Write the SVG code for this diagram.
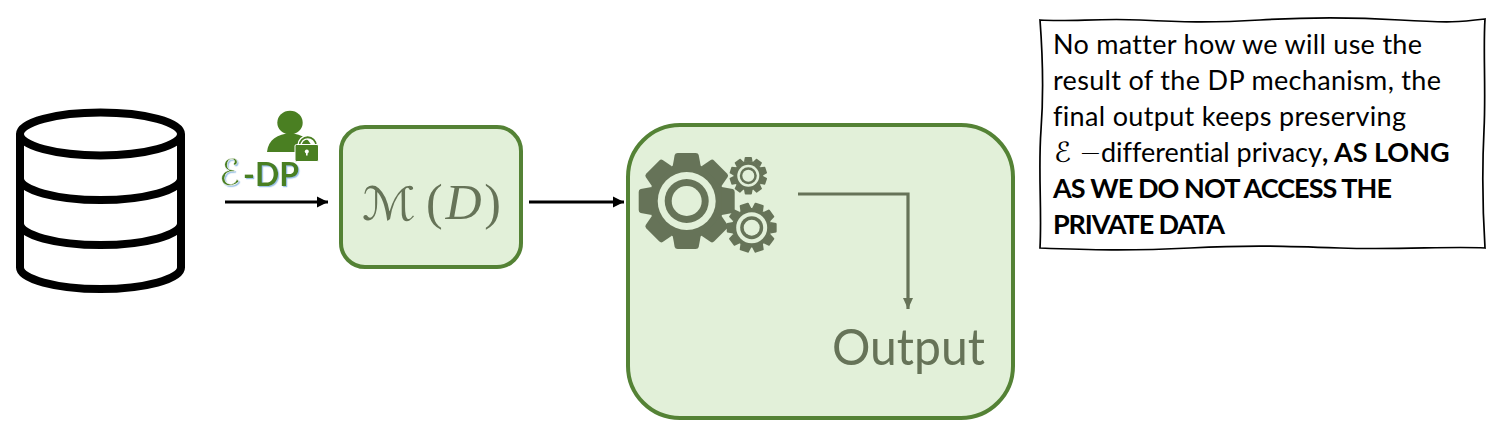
<svg xmlns="http://www.w3.org/2000/svg" width="1500" height="435" viewBox="0 0 1500 435">
<style>
.box{fill:#E2F0D9;stroke:#548235;stroke-width:4}
.db{fill:none;stroke:#000;stroke-width:8}
.conn{fill:none;stroke:#000;stroke-width:3.200}
.conn2{fill:none;stroke:#667358;stroke-width:3.200}
.dark{fill:#667358}
.light{fill:#E2F0D9}
.note{font-family:Lato,"Liberation Sans",sans-serif;font-size:27px;fill:#000;font-variant-ligatures:none}
.b{font-weight:700}
.dp{fill:#4A7F22}
.math{fill:#667358;font-family:"Liberation Serif",serif}
</style>
<defs>
<marker id="hb" markerUnits="userSpaceOnUse" markerWidth="12" markerHeight="13" refX="11" refY="6.500" orient="auto"><path d="M0,1L11,6.500L0,12Z" fill="#000"/></marker>
<marker id="hg" markerUnits="userSpaceOnUse" markerWidth="12" markerHeight="13" refX="11" refY="6.500" orient="auto"><path d="M0,1.500L11,6.500L0,11.500Z" fill="#667358"/></marker>
<path id="t8" d="M-14,-35L-12,-46Q-11.500,-48 -9,-48L9,-48Q11.500,-48 12,-46L14,-35Z"/>
<g id="gear8" class="dark">
<circle r="38"/>
<use href="#t8"/><use href="#t8" transform="rotate(45)"/><use href="#t8" transform="rotate(90)"/><use href="#t8" transform="rotate(135)"/>
<use href="#t8" transform="rotate(180)"/><use href="#t8" transform="rotate(225)"/><use href="#t8" transform="rotate(270)"/><use href="#t8" transform="rotate(315)"/>
</g>
<path id="t10" d="M-11,-36L-9,-47Q-8.500,-48 -7,-48L7,-48Q8.500,-48 9,-47L11,-36Z"/>
<g id="gear10" class="dark">
<circle r="38"/>
<use href="#t10"/><use href="#t10" transform="rotate(36)"/><use href="#t10" transform="rotate(72)"/><use href="#t10" transform="rotate(108)"/><use href="#t10" transform="rotate(144)"/>
<use href="#t10" transform="rotate(180)"/><use href="#t10" transform="rotate(216)"/><use href="#t10" transform="rotate(252)"/><use href="#t10" transform="rotate(288)"/><use href="#t10" transform="rotate(324)"/>
</g>
<filter id="sh" x="-15%" y="-15%" width="130%" height="140%"><feDropShadow dx="1.200" dy="1.200" stdDeviation="0.300" flood-color="#9DC3E6"/></filter>
</defs>

<g id="database">
<ellipse class="db" cx="100.500" cy="134" rx="80.500" ry="21.500"/>
<path class="db" d="M20,134V267.500C20,279 56,289 100.500,289S181,279 181,267.500V134"/>
<path class="db" d="M20,178.500C20,190 56,200 100.500,200S181,190 181,178.500"/>
<path class="db" d="M20,223.500C20,235 56,245 100.500,245S181,235 181,223.500"/>
</g>

<g id="dp-label">
<ellipse class="dp" cx="290" cy="122.700" rx="12.700" ry="11.900"/>
<path class="dp" d="M267,152C268,140 278,133.500 290,133.500C302,133.500 312,140 313,152Z"/>
<path d="M299.500,146V145.500A8.200,8.200 0 0 1 316,145.500V146" fill="none" stroke="#fff" stroke-width="4.500"/>
<path d="M299.500,146V145.500A8.200,8.200 0 0 1 316,145.500V146" fill="none" stroke="#4A7F22" stroke-width="1.800"/>
<rect class="dp" x="295" y="144.500" width="23.500" height="17" rx="1.500" stroke="#fff" stroke-width="1"/>
<circle cx="306.800" cy="151.500" r="2" fill="#fff"/>
<rect x="306" y="151.500" width="1.600" height="4" fill="#fff"/>
<text x="219" y="185" filter="url(#sh)" style="font-family:'DejaVu Sans',sans-serif;font-size:36px" fill="#4A7F22" stroke="#fff" stroke-width="0.500" textLength="21" lengthAdjust="spacingAndGlyphs">ℰ</text>
<text x="243" y="186" filter="url(#sh)" style="font-family:Lato,sans-serif;font-size:33px;font-weight:700" fill="#4A7F22" textLength="56" lengthAdjust="spacingAndGlyphs">-DP</text>
</g>

<g id="mechanism">
<rect class="box" x="341" y="127" width="180" height="140" rx="24"/>
<text class="math" x="362" y="220" style="font-family:'DejaVu Sans',sans-serif;font-size:46px" textLength="54" lengthAdjust="spacingAndGlyphs">ℳ</text>
<text class="math" x="426" y="219" style="font-size:50px;font-weight:400" textLength="75" lengthAdjust="spacing">(<tspan font-style="italic">D</tspan>)</text>
</g>

<g id="processing">
<rect class="box" x="628" y="125" width="385" height="293" rx="52"/>
<use href="#gear8" transform="translate(686.700,201)"/>
<circle class="light" cx="686.700" cy="201" r="29"/>
<circle class="dark" cx="686.700" cy="201" r="22"/>
<circle class="light" cx="686.700" cy="201" r="15"/>
<use href="#gear10" transform="translate(748.300,175.700) scale(0.390)"/>
<circle class="light" cx="748.300" cy="175.700" r="11"/>
<circle class="dark" cx="748.300" cy="175.700" r="8.500"/>
<circle class="light" cx="748.300" cy="175.700" r="6"/>
<use href="#gear10" transform="translate(751.700,227.700) rotate(18) scale(0.520)"/>
<circle class="light" cx="751.700" cy="227.700" r="15.500"/>
<circle class="dark" cx="751.700" cy="227.700" r="11.500"/>
<circle class="light" cx="751.700" cy="227.700" r="8"/>
<text x="832" y="365" style="font-family:Lato,sans-serif;font-size:50px" fill="#667358" textLength="153" lengthAdjust="spacingAndGlyphs">Output</text>
</g>

<g id="note">
<path d="M1040,20C1070,22 1100,18 1140,20S1210,23 1260,20S1350,17 1400,20S1460,22 1485,19C1483,50 1486,90 1484,130S1482,200 1485,248C1450,246 1400,250 1340,248S1250,245 1190,248S1090,250 1040,248C1042,210 1038,170 1041,130S1043,60 1040,20Z" fill="#fff" stroke="#000" stroke-width="1.700"/>
<text class="note" x="1053" y="54" textLength="369">No matter how we will use the</text>
<text class="note" x="1053" y="90" textLength="388">result of the DP mechanism, the</text>
<text class="note" x="1053" y="126" textLength="353">final output keeps preserving</text>
<text class="note" x="1054" y="162"><tspan style="font-family:'DejaVu Sans',sans-serif;font-size:28px">ℰ</tspan><tspan x="1079" style="font-family:'DejaVu Sans',sans-serif;font-weight:300">−</tspan><tspan x="1101">differential privacy</tspan><tspan class="b">, AS LONG</tspan></text>
<text class="note b" x="1053" y="198" textLength="339">AS WE DO NOT ACCESS THE</text>
<text class="note b" x="1053" y="234" textLength="172">PRIVATE DATA</text>
</g>

<g id="connectors">
<path class="conn" d="M225,202H328" marker-end="url(#hb)"/>
<path class="conn" d="M529,202H624" marker-end="url(#hb)"/>
<path class="conn2" d="M798,194H908V309" marker-end="url(#hg)"/>
</g>
</svg>
